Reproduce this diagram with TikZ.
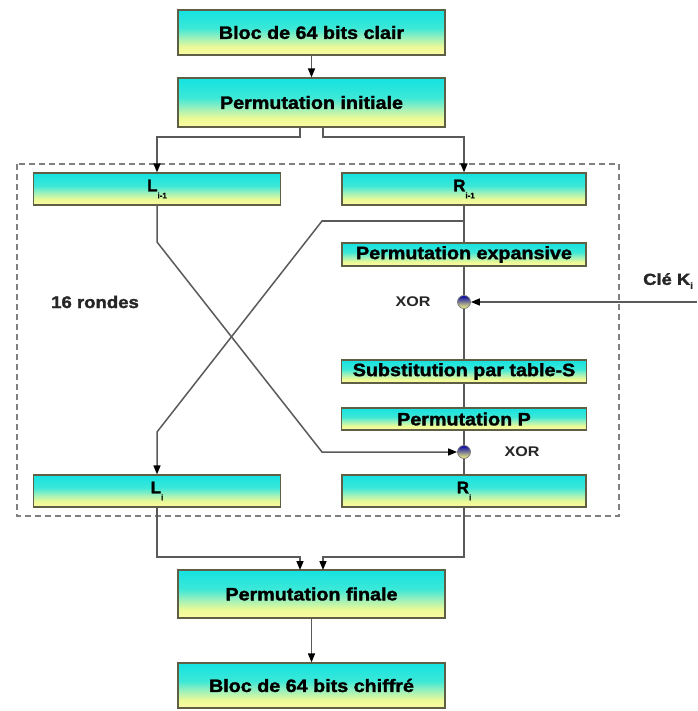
\documentclass[tikz,border=0pt]{standalone}
\usepackage{fontspec}
\setmainfont{Liberation Sans}
\newfontfamily\heavyfont{Liberation Sans Bold}[FakeBold=1.6]
\usetikzlibrary{arrows.meta,calc}
\definecolor{boxcyan}{RGB}{20,226,226}
\definecolor{boxcyanb}{RGB}{60,232,215}
\definecolor{boxgreen}{RGB}{150,240,190}
\definecolor{boxyel}{RGB}{250,250,160}
\definecolor{boxyelb}{RGB}{235,250,150}
\definecolor{lncol}{RGB}{90,90,90}
\definecolor{bordercol}{RGB}{95,95,70}
\pgfdeclareverticalshading{boxshade}{100bp}{color(0bp)=(boxyel); color(27bp)=(boxyel); color(34bp)=(boxyelb); color(45bp)=(boxgreen); color(55bp)=(boxcyanb); color(75bp)=(boxcyan); color(100bp)=(boxcyan)}
\newcommand{\bt}[2]{\scalebox{1.16}[1.05]{\fontsize{#1}{#1}\selectfont\heavyfont #2}}
\newcommand{\lr}[2]{\fontsize{17}{17}\selectfont\heavyfont #1\raisebox{-7pt}{\fontsize{8}{8}\selectfont #2}}
\tikzset{
  bigbox/.style={draw=bordercol, line width=1.2pt, shading=boxshade, minimum width=267pt, inner sep=0pt},
  midbox/.style={draw=bordercol, line width=1.2pt, shading=boxshade, minimum height=32pt, inner sep=0pt},
  smallbox/.style={draw=bordercol, line width=1.2pt, shading=boxshade, minimum width=245pt, minimum height=23pt, inner sep=0pt},
  ln/.style={draw=lncol, line width=1.5pt},
  arr/.style={ln, -{Triangle[length=9pt,width=7pt,fill=black,color=black]}},
  xorc/.style={circle, draw=gray, line width=0.8pt, top color=blue!65!black, bottom color=yellow!50, minimum size=13pt, inner sep=0pt},
  lbl/.style={inner sep=0pt, text=black!85}
}
\begin{document}
\begin{tikzpicture}[x=1pt,y=-1pt]
\useasboundingbox (0,0) rectangle (697,711);
\fill[white] (0,0) rectangle (697,711);
% dashed round frame
\draw[draw=gray, line width=1.3pt, dash pattern=on 6pt off 4pt] (17,164) rectangle (619,516);

% boxes
\node[bigbox, minimum height=45pt] (clair) at (311.5,32.5) {\bt{17}{Bloc de 64 bits clair}};
\node[bigbox, minimum height=49pt] (pinit) at (311.5,102.5) {\bt{17}{Permutation initiale}};
\node[midbox, minimum width=247pt] (Lm1) at (157,189) {\lr{L}{i-1}};
\node[midbox, minimum width=244pt] (Rm1) at (464,189) {\lr{R}{i-1}};
\node[smallbox, minimum width=244pt] (PE) at (464,254.5) {\bt{17}{Permutation expansive}};
\node[smallbox] (Sub) at (464,371.5) {\bt{17}{Substitution par table-S}};
\node[smallbox, minimum height=22pt] (PP) at (464,419) {\bt{17}{Permutation P}};
\node[midbox, minimum width=247pt] (Li) at (157,491) {\lr{L}{i}};
\node[midbox, minimum width=244pt] (Ri) at (464,491) {\lr{R}{i}};
\node[bigbox, minimum height=48pt] (pfin) at (311.5,594) {\bt{17}{Permutation finale}};
\node[bigbox, minimum height=45pt] (chif) at (311.5,685.5) {\bt{17}{Bloc de 64 bits chiffré}};

% XOR circles
\node[xorc] (x1) at (464,302) {};
\node[xorc] (x2) at (464,452) {};

% labels
\node[lbl, anchor=west] (rondes) at (51,302) {\bt{16}{16 rondes}};
\node[lbl] (xorA) at (413,302) {\scalebox{1.15}[1]{\fontsize{14}{14}\selectfont\bfseries XOR}};
\node[lbl] (xorB) at (522,452) {\scalebox{1.15}[1]{\fontsize{14}{14}\selectfont\bfseries XOR}};
\node[lbl, anchor=west] (cle) at (643,281) {\scalebox{1.15}[1]{\fontsize{16}{16}\selectfont\heavyfont Clé K\raisebox{-4pt}{\fontsize{9}{9}\selectfont i}}};

% coordinates
\coordinate (keyin) at (697,302);
\coordinate (pl) at (300,127);
\coordinate (pr) at (323,127);
\coordinate (rb) at (464,221);
\coordinate (rc) at (322,221);
\coordinate (rd) at (157,432);
\coordinate (la) at (157,242);
\coordinate (lb) at (322,452);
\coordinate (fl) at (300,570);
\coordinate (fr) at (323,570);

% connectors
\draw[arr] (clair.south) -- (pinit.north);
\draw[arr] (pl) -- ++(0,10) -| (Lm1.north);
\draw[arr] (pr) -- ++(0,10) -| (Rm1.north);

\draw[ln] (Rm1.south) -- (PE.north);
\draw[ln] (PE.south) -- (x1.north);
\draw[ln] (x1.south) -- (Sub.north);
\draw[ln] (Sub.south) -- (PP.north);
\draw[ln] (PP.south) -- (x2.north);
\draw[ln] (x2.south) -- (Ri.north);

\draw[arr] (keyin) -- (x1.east);
\draw[arr] (Lm1.south) -- (la) -- (lb) -- (x2.west);
\draw[arr] (rb) -- (rc) -- (rd) -- (Li.north);

\draw[arr] (Li.south) |- ($(fl)+(0,-13)$) -- (fl);
\draw[arr] (Ri.south) |- ($(fr)+(0,-13)$) -- (fr);
\draw[arr] (pfin.south) -- (chif.north);
\end{tikzpicture}
\end{document}
